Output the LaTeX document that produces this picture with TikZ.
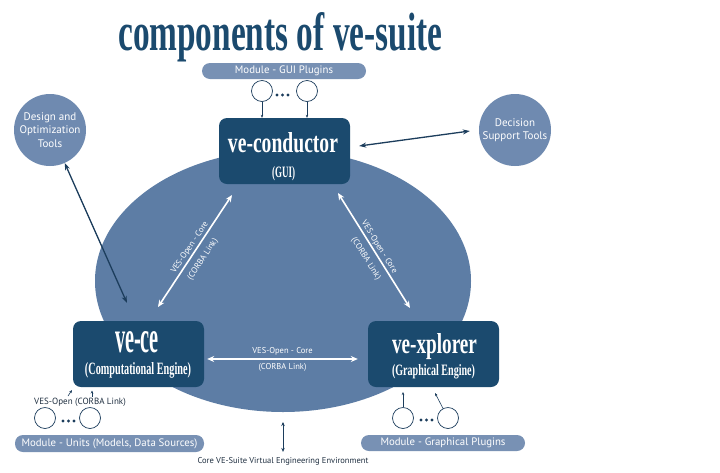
\documentclass[tikz,border=0pt]{standalone}
\usepackage{fontspec}
\usepackage{graphicx}
\setmainfont{PT Sans}
\newfontfamily\serifc{Liberation Serif}
\usetikzlibrary{arrows.meta,shapes.geometric}
\definecolor{navy}{HTML}{1B4A6E}
\definecolor{ellc}{HTML}{5D7DA5}
\definecolor{circc}{HTML}{6F8AB0}
\definecolor{pillc}{HTML}{7891B4}
\definecolor{arrc}{HTML}{1C3D5C}
\definecolor{txt}{HTML}{1F2F40}
\begin{document}
\begin{tikzpicture}[x=1pt,y=-1pt,
  box/.style={fill=navy, rounded corners=8pt, minimum width=131pt, minimum height=66pt, inner sep=0pt},
  boxtxt/.style={text=white, inner sep=0pt, anchor=base},
  tool/.style={circle, fill=circc, minimum size=72pt, inner sep=0pt, text=white, align=center, font=\fontsize{11}{13.5}\selectfont},
  pill/.style={rounded corners=8pt, fill=pillc, text=white, minimum height=16pt, inner sep=0pt, font=\fontsize{10.8}{12}\selectfont},
  plug/.style={circle, draw=arrc, line width=0.7pt, fill=white, minimum size=21pt, inner sep=0pt},
  warr/.style={draw=white, line width=1.6pt, {Stealth[length=7pt,width=6pt]}-{Stealth[length=7pt,width=6pt]}},
  darr/.style={draw=arrc, line width=1.3pt, {Stealth[length=7pt,width=5pt]}-{Stealth[length=7pt,width=5pt]}},
  sarr/.style={draw=arrc, line width=0.6pt, -{Stealth[length=3pt,width=2.5pt]}},
  lbl/.style={text=white, font=\fontsize{8.5}{10}\selectfont, inner sep=1.5pt},
  dlbl/.style={text=txt, font=\fontsize{8.5}{10}\selectfont, inner sep=0pt},
  ]
\fill[white] (0,0) rectangle (720,472);
\useasboundingbox (0,0) rectangle (720,472);

% title
\node[text=navy, anchor=base west, inner sep=0pt] (title) at (118,50)
  {\resizebox{324pt}{38pt}{\serifc\bfseries components of ve-suite}};

% core ellipse
\node[ellipse, fill=ellc, minimum width=376pt, minimum height=262pt, inner sep=0pt] (core) at (283,281) {};

% boxes
\node[box] (cond) at (284.5,151) {};
\node[box] (vece) at (138.5,354) {};
\node[box] (vexp) at (433.5,354) {};
\node[boxtxt] (condA) at (283,152) {\resizebox{110pt}{20pt}{\serifc\bfseries ve-conductor}};
\node[boxtxt] (condB) at (283.5,177) {\resizebox{23pt}{11pt}{\serifc\bfseries (GUI)}};
\node[boxtxt] (veceA) at (137,352) {\resizebox{44pt}{21pt}{\serifc\bfseries ve-ce}};
\node[boxtxt] (veceB) at (138,374) {\resizebox{106pt}{12pt}{\serifc\bfseries (Computational Engine)}};
\node[boxtxt] (vexpA) at (434.5,353) {\resizebox{85pt}{20pt}{\serifc\bfseries ve-xplorer}};
\node[boxtxt] (vexpB) at (433.5,375) {\resizebox{83pt}{11pt}{\serifc\bfseries (Graphical Engine)}};

% tool circles
\node[tool] (des) at (50,130) {Design and\\Optimization\\Tools};
\node[tool] (dec) at (515,130) {Decision\\Support Tools};

% pills
\node[pill, minimum width=164pt] (gui) at (284,71) {Module - GUI Plugins};
\node[pill, minimum width=189pt, minimum height=17pt] (units) at (109.5,443.5) {Module - Units (Models, Data Sources)};
\node[pill, minimum width=164pt] (gplug) at (443,443) {Module - Graphical Plugins};

% plugin circles
\node[plug] (g1) at (262,91) {};
\node[plug] (g2) at (307,91) {};
\node[plug] (u1) at (45,418) {};
\node[plug] (u2) at (90,418) {};
\node[plug] (x1) at (403,418) {};
\node[plug] (x2) at (448,418) {};
\foreach \p in {277,282.5,288} \fill[arrc] (\p,95) circle (1.7pt);
\foreach \p in {63,68.5,74} \fill[arrc] (\p,421) circle (1.7pt);
\foreach \p in {421,426.5,432} \fill[arrc] (\p,420) circle (1.7pt);

% plugin arrows
\draw[sarr] (g1) -- (g1 |- cond.north);
\draw[sarr] (g2) -- (g2 |- cond.north);
\coordinate (x1t) at (403,392);
\coordinate (x2t) at (435,393);
\draw[sarr] (x1) -- (x1t);
\draw[sarr] (x2) -- (x2t);

% VES-Open label under ve-ce
\node[dlbl, font=\fontsize{9}{10}\selectfont] (vo) at (80,402) {VES-Open (CORBA Link)};
\coordinate (vo1s) at (68,396);
\coordinate (vo1t) at (72,390);
\coordinate (vo2s) at (92,397);
\coordinate (vo2t) at (92,390.5);
\draw[sarr] (vo1s) -- (vo1t);
\draw[sarr] (vo2s) -- (vo2t);

% core label + arrow
\node[dlbl] (corelbl) at (283,461) {Core VE-Suite Virtual Engineering Environment};
\coordinate (ca) at (283,422);
\draw[draw=arrc, line width=1pt, {Stealth[length=4pt,width=3.5pt]}-{Stealth[length=4pt,width=3.5pt]}] (ca) -- ([yshift=5pt]corelbl.north);

% dark arrows to tools
\coordinate (desE) at (127,303);
\draw[darr] (des) -- (desE);
\draw[darr] ([xshift=9pt,yshift=5pt]cond.east) -- ([xshift=-9pt,yshift=-1pt]dec.west);

% white CORBA arrows
\coordinate (l1) at (158,307);
\coordinate (l2) at (232,195);
\draw[warr] (l1) -- node[lbl, sloped, above, pos=0.5] {VES-Open - Core}
                    node[lbl, sloped, below=5pt, pos=0.48] {(CORBA Link)} (l2);
\coordinate (r1) at (338,193);
\coordinate (r2) at (410,308);
\draw[warr] (r1) -- node[lbl, sloped, above, pos=0.5] {VES-Open - Core}
                    node[lbl, sloped, below=5pt, pos=0.52] {(CORBA Link)} (r2);
\draw[warr] ([xshift=3pt]vece.east |- 0,359) -- node[lbl, above=2pt] {VES-Open - Core}
                    node[lbl, below=2pt] {(CORBA Link)} ([xshift=-10pt]vexp.west |- 0,359);
\end{tikzpicture}
\end{document}
